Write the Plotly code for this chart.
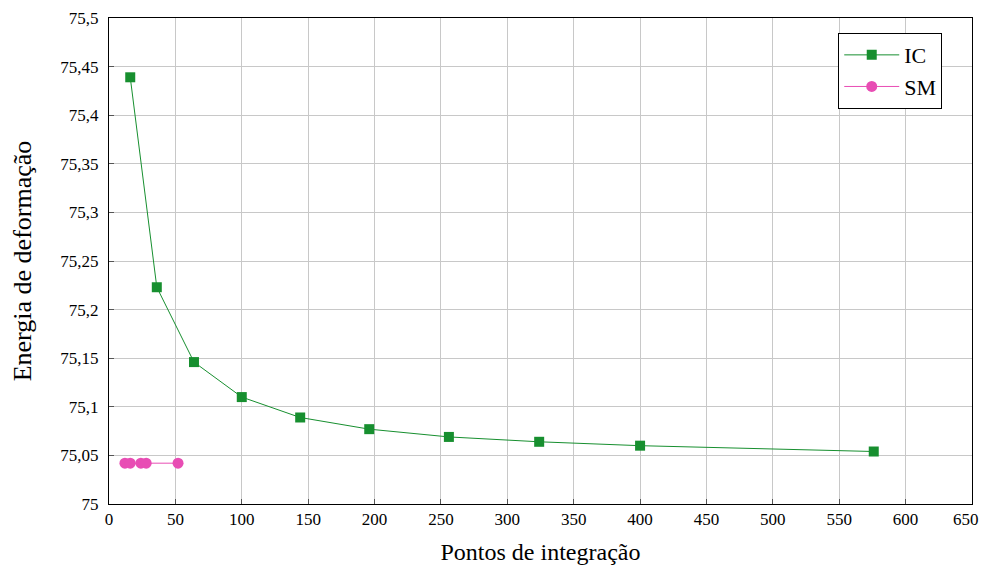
import plotly.graph_objects as go

ic_x = [16, 36, 64, 100, 144, 196, 256, 324, 400, 576]
ic_y = [75.439, 75.223, 75.146, 75.110, 75.089, 75.077, 75.069, 75.064, 75.060, 75.054]
sm_x = [12, 16, 24, 28, 52]
sm_y = [75.042, 75.042, 75.042, 75.042, 75.042]

x_ticks = list(range(0, 651, 50))
x_tick_text = [str(v) for v in x_ticks]
x_tick_text[-1] = x_tick_text[-1] + "\u00a0\u00a0\u00a0"  # keep the last label inside the visible page
y_ticks = [75, 75.05, 75.1, 75.15, 75.2, 75.25, 75.3, 75.35, 75.4, 75.45, 75.5]
y_tick_text = ["75", "75,05", "75,1", "75,15", "75,2", "75,25", "75,3", "75,35", "75,4", "75,45", "75,5"]

green = "#178F2F"
pink = "#E84DB4"
serif = "Liberation Serif"

fig = go.Figure()
fig.add_trace(go.Scatter(x=ic_x, y=ic_y, mode="lines+markers", name="IC",
                         line=dict(color=green, width=1),
                         marker=dict(symbol="square", size=10, color=green)))
fig.add_trace(go.Scatter(x=sm_x, y=sm_y, mode="lines+markers", name="SM",
                         line=dict(color=pink, width=1),
                         marker=dict(symbol="circle", size=11, color=pink)))

axis_common = dict(showline=True, linecolor="black", linewidth=1, mirror=True,
                   showgrid=True, gridcolor="#c8c8c8", gridwidth=1,
                   ticks="inside", ticklen=5, tickcolor="#555555",
                   tickfont=dict(family=serif, size=17, color="black"),
                   zeroline=False, automargin=False)

fig.update_layout(
    width=979, height=559,
    margin=dict(l=101, r=15, t=10, b=63),
    plot_bgcolor="white", paper_bgcolor="white",
    font=dict(family=serif, color="black"),
    xaxis=dict(range=[0, 650], tickvals=x_ticks, ticktext=x_tick_text,
               ticklabeloverflow="allow",
               title=dict(text="Pontos de integração", font=dict(family=serif, size=24, color="black"), standoff=14),
               **axis_common),
    yaxis=dict(range=[75, 75.5], tickvals=y_ticks, ticktext=y_tick_text,
               ticklabelstandoff=6,
               title=dict(text="Energia de deformação", font=dict(family=serif, size=26, color="black"), standoff=29),
               **axis_common),
    legend=dict(x=0.845, y=0.969, xanchor="left", yanchor="top",
                bordercolor="black", borderwidth=1, bgcolor="white",
                font=dict(family=serif, size=22, color="black"),
                itemwidth=55, tracegroupgap=0),
    showlegend=True,
)

fig.write_html("out.html")
